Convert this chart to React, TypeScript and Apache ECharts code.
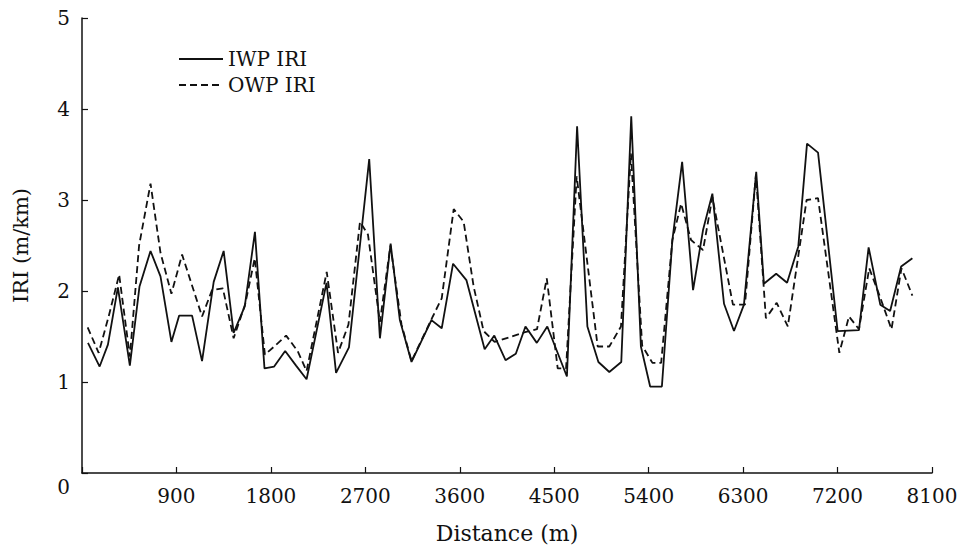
import React, { useEffect, useRef } from "react";
import * as echarts from "echarts";

// IWP IRI: distance (m), IRI (m/km)
const iwpDistance = [57, 168, 247, 342, 456, 548, 653, 748, 852, 926, 1049, 1144, 1255, 1350, 1445, 1551, 1648, 1739, 1831, 1936, 2040, 2140, 2330, 2421, 2544, 2737, 2839, 2941, 3029, 3140, 3330, 3428, 3536, 3663, 3837, 3929, 4036, 4134, 4226, 4334, 4434, 4621, 4718, 4816, 4921, 5025, 5139, 5234, 5326, 5414, 5526, 5626, 5719, 5823, 5918, 6007, 6118, 6213, 6308, 6425, 6498, 6615, 6719, 6826, 6909, 7014, 7201, 7404, 7496, 7607, 7701, 7806, 7913];
const iwpIri = [1.43, 1.17, 1.41, 2.04, 1.18, 2.05, 2.44, 2.16, 1.44, 1.73, 1.73, 1.23, 2.10, 2.44, 1.54, 1.83, 2.65, 1.15, 1.17, 1.34, 1.18, 1.03, 2.09, 1.10, 1.38, 3.45, 1.48, 2.52, 1.68, 1.22, 1.68, 1.59, 2.30, 2.12, 1.36, 1.51, 1.24, 1.31, 1.61, 1.43, 1.61, 1.06, 3.81, 1.61, 1.22, 1.11, 1.22, 3.92, 1.39, 0.95, 0.95, 2.56, 3.42, 2.01, 2.67, 3.07, 1.86, 1.56, 1.85, 3.31, 2.08, 2.19, 2.09, 2.49, 3.62, 3.52, 1.56, 1.57, 2.48, 1.85, 1.78, 2.27, 2.36];

// OWP IRI: distance (m), IRI (m/km)
const owpDistance = [54, 159, 254, 354, 456, 544, 653, 748, 852, 954, 1144, 1239, 1342, 1445, 1556, 1646, 1743, 1841, 1945, 2055, 2140, 2332, 2440, 2539, 2649, 2725, 2839, 2939, 3045, 3140, 3343, 3428, 3542, 3637, 3732, 3827, 3932, 4231, 4336, 4429, 4533, 4613, 4714, 4914, 5025, 5136, 5231, 5338, 5436, 5519, 5626, 5709, 5804, 5918, 6007, 6203, 6318, 6422, 6517, 6620, 6726, 6905, 7014, 7217, 7309, 7404, 7502, 7600, 7714, 7809, 7913];
const owpIri = [1.60, 1.32, 1.72, 2.18, 1.28, 2.50, 3.18, 2.42, 1.97, 2.40, 1.72, 2.01, 2.03, 1.48, 1.86, 2.36, 1.30, 1.40, 1.51, 1.34, 1.12, 2.21, 1.32, 1.63, 2.76, 2.62, 1.66, 2.50, 1.63, 1.23, 1.72, 1.92, 2.90, 2.76, 2.05, 1.56, 1.44, 1.55, 1.58, 2.14, 1.15, 1.15, 3.26, 1.39, 1.39, 1.61, 3.51, 1.40, 1.21, 1.21, 2.56, 2.96, 2.56, 2.45, 3.03, 1.85, 1.85, 3.28, 1.70, 1.87, 1.61, 3.00, 3.02, 1.32, 1.72, 1.58, 2.25, 1.95, 1.58, 2.25, 1.95];

const seriesNames = ["IWP IRI", "OWP IRI"];
const xAxisName = "Distance (m)";
const yAxisName = "IRI (m/km)";

const FONT = "DejaVu Serif";

export default function App() {
  const ref = useRef<HTMLDivElement>(null);
  useEffect(() => {
    if (!ref.current) return;
    const chart = echarts.init(ref.current, null, { renderer: "svg" });
    const iwp = iwpDistance.map((d, i) => [d, iwpIri[i]]);
    const owp = owpDistance.map((d, i) => [d, owpIri[i]]);
    chart.setOption({
      animation: false,
      backgroundColor: "#ffffff",
      grid: { left: 82, right: 30, top: 18, bottom: 77, containLabel: false },
      legend: {
        orient: "vertical",
        left: 173,
        top: 44,
        itemWidth: 44,
        itemHeight: 20,
        itemGap: 6,
        itemStyle: { opacity: 0 },
        textStyle: { fontFamily: FONT, fontSize: 20, color: "#111", lineHeight: 20 },
        data: seriesNames,
      },
      xAxis: {
        type: "value",
        min: 0,
        max: 8100,
        interval: 900,
        name: xAxisName,
        nameLocation: "middle",
        nameGap: 49,
        nameTextStyle: { fontFamily: FONT, fontSize: 22, color: "#111" },
        axisLine: { show: true, lineStyle: { color: "#111", width: 1.5 } },
        axisTick: { show: true, inside: true, length: 6, lineStyle: { color: "#111", width: 1.2 } },
        axisLabel: {
          fontFamily: FONT,
          fontSize: 20,
          color: "#111",
          margin: 13,
          formatter: (v: number) => (v === 0 ? "" : String(v)),
        },
        splitLine: { show: false },
      },
      yAxis: {
        type: "value",
        min: 0,
        max: 5,
        interval: 1,
        name: yAxisName,
        nameLocation: "middle",
        nameGap: 51,
        nameTextStyle: { fontFamily: FONT, fontSize: 21, color: "#111" },
        axisLine: { show: true, lineStyle: { color: "#111", width: 1.5 } },
        axisTick: { show: true, inside: true, length: 6, lineStyle: { color: "#111", width: 1.2 } },
        axisLabel: {
          fontFamily: FONT,
          fontSize: 20,
          color: "#111",
          margin: 12,
          formatter: (v: number) => (v === 0 ? "{z|0}" : String(v)),
          rich: { z: { fontFamily: FONT, fontSize: 20, color: "#111", padding: [28, 0, 0, 0] } },
        },
        splitLine: { show: false },
      },
      series: [
        {
          name: seriesNames[0],
          type: "line",
          data: iwp,
          symbol: "none",
          lineStyle: { color: "#111", width: 1.8, type: "solid" },
          itemStyle: { color: "#111" },
        },
        {
          name: seriesNames[1],
          type: "line",
          data: owp,
          symbol: "none",
          lineStyle: { color: "#111", width: 1.8, type: [7, 4] },
          itemStyle: { color: "#111" },
        },
      ],
    });
    return () => chart.dispose();
  }, []);
  return (
    <div
      ref={ref}
      style={{ position: "fixed", left: 0, top: 0, width: 962, height: 550 }}
    />
  );
}
